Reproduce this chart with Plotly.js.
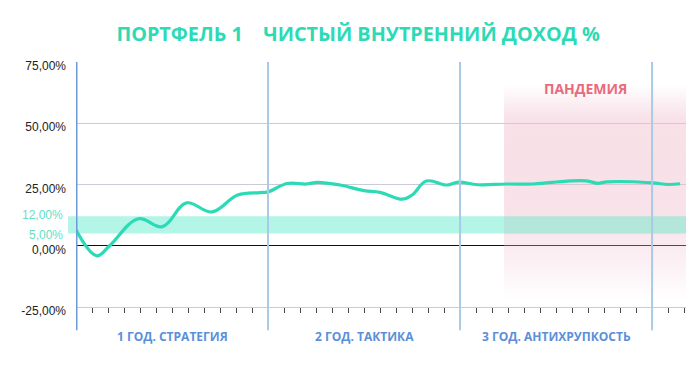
<!DOCTYPE html>
<html>
<head>
<meta charset="utf-8">
<script src="https://cdn.plot.ly/plotly-3.0.1.min.js"></script>
<style>html,body{margin:0;padding:0;background:#fff;}#chart{width:686px;height:371px;}</style>
</head>
<body>
<div id="chart"></div>
<script>
// ---- data ----
const months = [0, 1.3, 2.1, 3.9, 5.4, 6.9, 8.5, 10.1, 11.5, 12.0, 13.2, 14.4, 15.1, 16.5, 18.0, 19.0, 20.4, 21.0, 21.9, 23.2, 23.9, 25.1, 26.9, 28.6, 30.7, 31.9, 32.6, 33.2, 36.0, 37.0, 37.75];
const irr = [6.5, -4.1, 0.0, 11.0, 7.8, 17.5, 13.8, 20.7, 21.7, 22.0, 25.4, 25.2, 25.9, 24.8, 22.5, 21.8, 19.0, 20.7, 26.4, 24.8, 26.0, 24.9, 25.2, 25.2, 26.4, 26.5, 25.5, 26.1, 25.7, 25.0, 25.3];
const targetBand = [5, 12];
const bandLabels = ["12,00%", "5,00%"];
const pandemicX = [26.75, 38.2];
const pandemicY = [-22, 66];
const pandemicLabel = "ПАНДЕМИЯ";
const yearBounds = [0, 12, 24, 36];
const yearCenters = [6, 18, 30];
const yearLabels = ["1 ГОД. СТРАТЕГИЯ", "2 ГОД. ТАКТИКА", "3 ГОД. АНТИХРУПКОСТЬ"];
const yTickVals = [-25, 0, 25, 50, 75];
const yTickText = ["-25,00%", "0,00%", "25,00%", "50,00%", "75,00%"];
const monthTicks = Array.from({length: 39}, (_, i) => i);
const titleText = "ПОРТФЕЛЬ 1&nbsp;&nbsp;&nbsp;&nbsp;ЧИСТЫЙ ВНУТРЕННИЙ ДОХОД %";

// ---- traces ----
const pandemicTrace = {
  x: [pandemicX[0], pandemicX[1], pandemicX[1], pandemicX[0], pandemicX[0]],
  y: [pandemicY[0], pandemicY[0], pandemicY[1], pandemicY[1], pandemicY[0]],
  mode: 'lines', fill: 'toself', line: {width: 0, color: 'rgba(0,0,0,0)'},
  fillgradient: {
    type: 'vertical',
    colorscale: [
      [0, 'rgba(240,190,205,0)'],
      [0.15, 'rgba(240,190,205,0.2)'],
      [0.35, 'rgba(240,190,205,0.42)'],
      [0.6, 'rgba(240,190,205,0.48)'],
      [0.84, 'rgba(240,190,205,0.46)'],
      [1, 'rgba(240,190,205,0)']
    ]
  },
  hoverinfo: 'skip', showlegend: false
};
// band tint re-applied above the pandemic shading
const bandOverTrace = {
  x: [pandemicX[0], pandemicX[1], pandemicX[1], pandemicX[0], pandemicX[0]],
  y: [targetBand[0], targetBand[0], targetBand[1], targetBand[1], targetBand[0]],
  mode: 'lines', fill: 'toself', line: {width: 0, color: 'rgba(0,0,0,0)'},
  fillcolor: 'rgba(150,240,218,0.45)',
  hoverinfo: 'skip', showlegend: false
};
const lineTrace = {
  x: months, y: irr, mode: 'lines',
  line: {color: '#2cdab5', width: 3.2, shape: 'spline', smoothing: 1.1},
  hoverinfo: 'skip', showlegend: false
};

// ---- shapes ----
const shapes = [
  {type: 'rect', xref: 'paper', yref: 'y', x0: -0.013, x1: 1, y0: targetBand[0], y1: targetBand[1],
   fillcolor: '#b3f5e6', line: {width: 0}, layer: 'below'}
];
yearBounds.forEach((b, i) => {
  shapes.push({type: 'line', xref: 'x', yref: 'paper', x0: b, x1: b, y0: -0.095, y1: 1,
    line: {color: i === 0 ? '#6e9ad6' : '#a9cae6', width: i === 0 ? 3 : 2}, layer: 'above'});
});

// ---- annotations ----
const annotations = [];
yearLabels.forEach((t, i) => {
  annotations.push({text: t, xref: 'x', yref: 'paper', x: yearCenters[i], y: -0.12, showarrow: false,
    xanchor: 'center', yanchor: 'middle',
    font: {family: 'Open Sans', size: 12, color: '#5b8fd9', weight: 700}});
});
bandLabels.forEach((t, i) => {
  annotations.push({text: t, xref: 'paper', yref: 'y', x: 0, xshift: -11, y: targetBand[1 - i] + (i === 0 ? 0.5 : -0.5), showarrow: false,
    xanchor: 'right', yanchor: 'middle',
    font: {family: 'Liberation Sans, Arial', size: 12, color: '#5fe0c6'}});
});
annotations.push({text: pandemicLabel, xref: 'x', yref: 'y', x: (pandemicX[0] + 36.75) / 2 + 0.1, y: 64, showarrow: false,
  xanchor: 'center', yanchor: 'middle',
  font: {family: 'Open Sans', size: 14, color: '#e86b7c', weight: 700}});

const layout = {
  width: 686, height: 371,
  margin: {l: 76, r: 0, t: 61.5, b: 64, pad: 0},
  paper_bgcolor: '#ffffff', plot_bgcolor: '#ffffff',
  title: {text: titleText, xref: 'container', yref: 'container', x: 0.522, y: 0.909,
    xanchor: 'center', yanchor: 'middle',
    font: {family: 'Open Sans', size: 19.8, color: '#2cdab5', weight: 700}},
  xaxis: {range: [0, 38.12], tickvals: monthTicks, ticks: 'outside', ticklen: 5, tickwidth: 1,
    tickcolor: '#444', showticklabels: false, showgrid: false, zeroline: false,
    showline: true, linecolor: '#c9ccd6', linewidth: 1, fixedrange: true},
  yaxis: {range: [-25, 75], tickvals: yTickVals, ticktext: yTickText, ticks: '', ticklabelstandoff: 9,
    ticklabelshift: 4,
    tickfont: {family: 'Liberation Sans, Arial', size: 12, color: '#222'},
    showgrid: true, gridcolor: '#c9ccd6', gridwidth: 1,
    zeroline: true, zerolinecolor: '#111', zerolinewidth: 1, showline: false, fixedrange: true},
  shapes: shapes,
  annotations: annotations,
  showlegend: false
};

Plotly.newPlot('chart', [pandemicTrace, bandOverTrace, lineTrace], layout, {displayModeBar: false, staticPlot: true});
</script>
</body>
</html>
